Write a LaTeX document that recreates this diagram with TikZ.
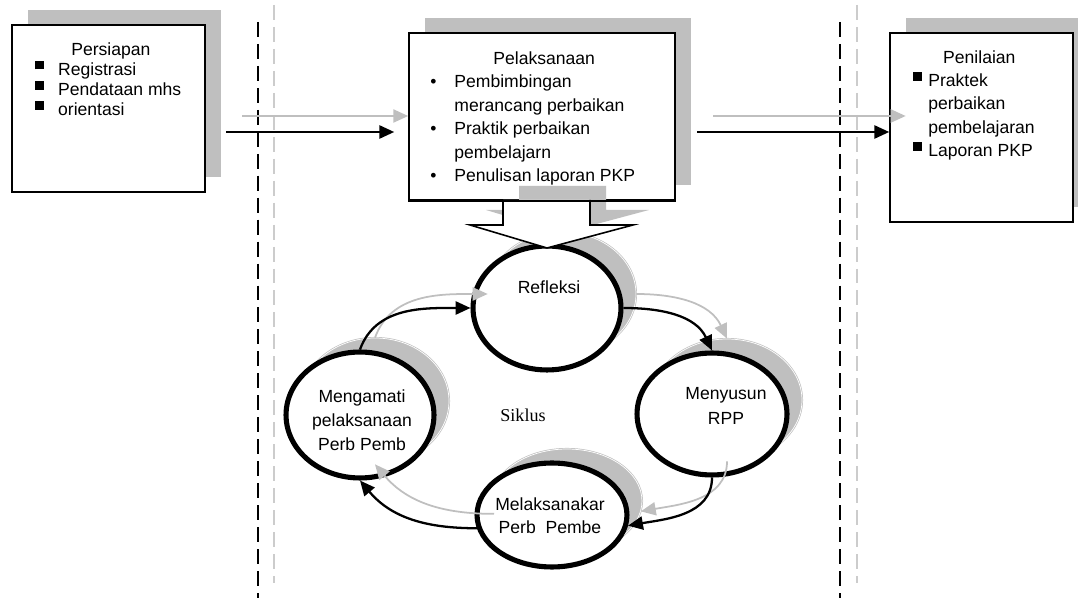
\documentclass[tikz,border=0pt]{standalone}
\usepackage{fontspec}
\setmainfont{Liberation Sans}
\newfontfamily\siklusfont{Liberation Serif}
\usetikzlibrary{shapes.geometric,arrows.meta}
\newcommand{\sqbul}{\raisebox{3.2pt}{\rule{4.8pt}{4.8pt}}}

\begin{document}
\begin{tikzpicture}[x=0.02cm,y=0.02cm]
    \tikzstyle{box}=[rectangle,draw=black,line width=0.9pt,fill=white,inner sep=0pt]
    \tikzstyle{boxshadow}=[rectangle,fill=gray!50,inner sep=0pt]
    \tikzstyle{cyc}=[ellipse,draw=black,line width=2.9pt,fill=white,inner sep=0pt]
    \tikzstyle{cycshadow}=[ellipse,fill=gray!50,draw=gray!50,double=white,double distance=0.4pt,line width=0.4pt,inner sep=0pt]
    \tikzstyle{txt}=[inner sep=0pt,align=left,anchor=north west]
    \tikzstyle{lbl}=[inner sep=0pt,align=center]
    \tikzstyle{flow}=[-{Triangle[length=8.5pt,width=7.5pt]},line width=1.3pt,draw=black]
    \tikzstyle{flowshadow}=[-{Triangle[length=8.5pt,width=7.5pt]},line width=1pt,draw=gray!50]
    \tikzstyle{colline}=[dash pattern=on 8.5pt off 4pt]

    \useasboundingbox (0,0) rectangle (1078,598);

    % column separators
    \draw[colline,black,line width=1.1pt] (258,576) -- (258,0);
    \draw[colline,gray!40,line width=0.9pt] (274,593) -- (274,15);
    \draw[colline,black,line width=1.1pt] (840,576) -- (840,0);
    \draw[colline,gray!40,line width=0.9pt] (857,593) -- (857,15);

    % cycle
    \foreach \name/\x/\y/\rx/\ry in {refleksi/547/290/74/62, menyusun/712/184/75/61,
                                    melaksanakar/552/83/75/52, mengamati/360/183/74/63}
        \node[cycshadow,minimum width=\rx*0.04cm,minimum height=\ry*0.04cm] (\name-s) at (\x+15,\y+14) {};
    \foreach \name/\x/\y/\rx/\ry in {refleksi/547/290/74/62, menyusun/712/184/75/61,
                                    melaksanakar/552/83/75/52, mengamati/360/183/74/63}
        \node[cyc,minimum width=\rx*0.04cm,minimum height=\ry*0.04cm] (\name) at (\x,\y) {};

    % boxes
    \foreach \name/\x/\y/\w/\h in {persiapan/108.5/489.5/193/167, pelaksanaan/542/481.5/266/167,
                                  penilaian/981.5/470.5/183/189}
    {
        \node[boxshadow,minimum width=\w*0.02cm,minimum height=\h*0.02cm] (\name-s) at (\x+16,\y+15) {};
        \node[box,minimum width=\w*0.02cm,minimum height=\h*0.02cm] (\name) at (\x,\y) {};
    }

    % block arrow under Pelaksanaan
    \fill[gray!50] (519,412) -- (519,388) -- (486,388) -- (563,365) -- (649,388) -- (606,388) -- (606,412) -- cycle;
    \filldraw[fill=white,draw=black,line width=0.9pt] (503,398) -- (503,373) -- (470,373) -- (547,350) -- (633,373) -- (590,373) -- (590,398);
    \draw[line width=0.9pt] (pelaksanaan.south west) -- (pelaksanaan.south east);

    \node[txt,font=\fontsize{10}{11.4}\selectfont] (persiapan-txt) at (35,556)
        {\hspace*{20.5pt}Persiapan\\
         \makebox[13pt][l]{\sqbul}Registrasi\\
         \makebox[13pt][l]{\sqbul}Pendataan mhs\\
         \makebox[13pt][l]{\sqbul}orientasi};
    \node[txt,font=\fontsize{10}{13.4}\selectfont] (pelaksanaan-txt) at (430,547)
        {\hspace*{35.9pt}Pelaksanaan\\
         \makebox[13.7pt][l]{\textbullet}Pembimbingan\\
         \hspace*{13.7pt}merancang perbaikan\\
         \makebox[13.7pt][l]{\textbullet}Praktik perbaikan\\
         \hspace*{13.7pt}pembelajarn\\
         \makebox[13.7pt][l]{\textbullet}Penulisan laporan PKP};
    \node[txt,font=\fontsize{10}{13.3}\selectfont] (penilaian-txt) at (913,548)
        {\hspace*{17pt}Penilaian\\
         \makebox[8.5pt][l]{\sqbul}Praktek\\
         \hspace*{8.5pt}perbaikan\\
         \hspace*{8.5pt}pembelajaran\\
         \makebox[8.5pt][l]{\sqbul}Laporan PKP};

    % flow between columns
    \coordinate (in-b) at (226,466);
    \coordinate (in-g) at (242,482);
    \coordinate (out-b) at (697,466);
    \coordinate (out-g) at (713,482);
    \draw[flowshadow] (in-g) -- (in-g -| pelaksanaan.west);
    \draw[flow,shorten >=0.28cm] (in-b) -- (in-b -| pelaksanaan.west);
    \draw[flowshadow] (out-g) -- (out-g -| penilaian-s.west);
    \draw[flow] (out-b) -- (out-b -| penilaian.west);

    % cycle labels
    \node[lbl,anchor=base,font=\fontsize{10}{12}\selectfont] (refleksi-txt) at (549,304) {Refleksi};
    \node[lbl,anchor=north,font=\fontsize{10}{14.2}\selectfont] (menyusun-txt) at (726,211) {Menyusun\\RPP};
    \node[lbl,anchor=north,font=\fontsize{10}{13.7}\selectfont] (mengamati-txt) at (362,209) {Mengamati\\pelaksanaan\\Perb Pemb};
    \node[lbl,anchor=north,font=\fontsize{10}{13.1}\selectfont] (melaksanakar-txt) at (550,101) {Melaksanakar\\Perb\ \ Pembe};
    \node[lbl,anchor=base,font=\siklusfont\fontsize{10.3}{12}\selectfont] (siklus) at (523,176) {Siklus};

    \draw[flowshadow] (mengamati-s.north) to[out=70,in=180] (refleksi-s.west);
    \draw[flowshadow] (refleksi-s.east) to[out=0,in=115] (menyusun-s.north);
    \draw[flowshadow] (menyusun-s.south) to[out=-90,in=10] (melaksanakar-s.-8);
    \draw[flowshadow] (melaksanakar-s.190) to[out=180,in=-50] (mengamati-s.south);

    \draw[flow] (mengamati.north) to[out=70,in=180] (refleksi.west);
    \draw[flow] (refleksi.east) to[out=0,in=115] (menyusun.north);
    \draw[flow] (menyusun.south) to[out=-90,in=10] (melaksanakar.-8);
    \draw[flow] (melaksanakar.190) to[out=180,in=-50] (mengamati.south);
\end{tikzpicture}
\end{document}
